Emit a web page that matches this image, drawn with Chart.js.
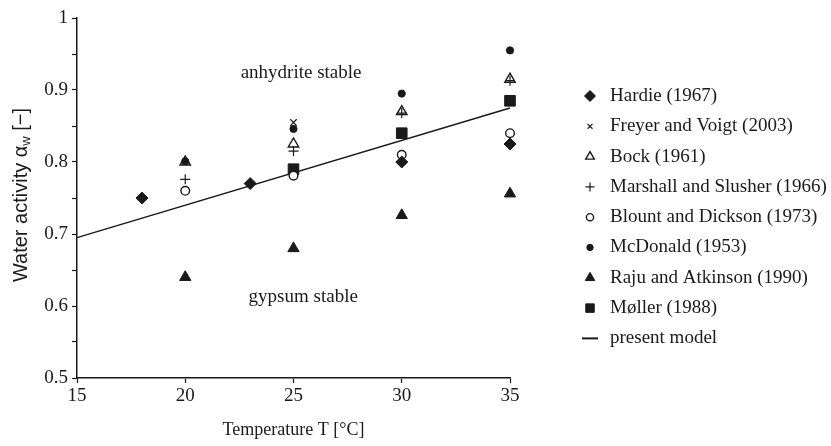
<!DOCTYPE html>
<html>
<head>
<meta charset="utf-8">
<script src="https://cdn.jsdelivr.net/npm/chart.js@4/dist/chart.umd.min.js"></script>
<style>
  html, body { margin: 0; padding: 0; background: #fff; }
  #wrap { width: 831px; height: 446px; }
</style>
</head>
<body>
<div id="wrap"><canvas id="myChart" width="831" height="446"></canvas></div>
<script>
// data: [temperature in C, water activity]
const hardie    = [[18, 0.750], [23, 0.770], [30, 0.800], [35, 0.825]];
const freyer    = [[25, 0.855]];
const bock      = [[20, 0.800], [25, 0.825], [30, 0.870], [35, 0.915]];
const marshall  = [[20, 0.776], [25, 0.815], [30, 0.868], [35, 0.913]];
const blount    = [[20, 0.760], [25, 0.781], [30, 0.810], [35, 0.840]];
const mcdonald  = [[20, 0.801], [25, 0.846], [30, 0.895], [35, 0.955]];
const raju      = [[20, 0.640], [25, 0.680], [30, 0.726], [35, 0.756]];
const moller    = [[25, 0.790], [30, 0.840], [35, 0.885]];
const model     = [[15, 0.695], [35, 0.875]];

const seriesNames = ['Hardie (1967)', 'Freyer and Voigt (2003)', 'Bock (1961)',
  'Marshall and Slusher (1966)', 'Blount and Dickson (1973)', 'McDonald (1953)',
  'Raju and Atkinson (1990)', 'M\u00f8ller (1988)', 'present model'];

const xTicks = [15, 20, 25, 30, 35];
const yTicks = [0.5, 0.6, 0.7, 0.8, 0.9, 1];
const yTickLabels = ['0.5', '0.6', '0.7', '0.8', '0.9', '1'];

const serif = '"Liberation Serif", "Times New Roman", serif';
const sans = '"Liberation Sans", Arial, sans-serif';
const ink = '#1a1a1a';

function pts(arr) {
  return arr.map(function(p) { return { x: p[0], y: p[1] }; });
}

// marker look for each series (same order as seriesNames)
const markers = [
  { pointStyle: 'rectRot',  radius: 6,   legendR: 5.5, fill: ink,             border: ink, bw: 1 },
  { pointStyle: 'crossRot', radius: 4.5, legendR: 3.5, fill: ink,             border: ink, bw: 1.2 },
  { pointStyle: 'triangle', radius: 6,   legendR: 5,   fill: 'rgba(0,0,0,0)', border: ink, bw: 1.4 },
  { pointStyle: 'cross',    radius: 5,   legendR: 4.5, fill: ink,             border: ink, bw: 1.2 },
  { pointStyle: 'circle',   radius: 4.3, legendR: 3.6, fill: '#fff',          border: ink, bw: 1.4 },
  { pointStyle: 'circle',   radius: 3.6, legendR: 3.2, fill: ink,             border: ink, bw: 1 },
  { pointStyle: 'triangle', radius: 6.5, legendR: 5.5, fill: ink,             border: ink, bw: 1 },
  { pointStyle: 'rect',     radius: 7.5, legendR: 6,   fill: ink,             border: ink, bw: 1 }
];

const allSeries = [hardie, freyer, bock, marshall, blount, mcdonald, raju, moller];

let datasets = allSeries.map(function(s, i) {
  let m = markers[i];
  return {
    label: seriesNames[i],
    data: pts(s),
    showLine: false,
    clip: false,
    pointStyle: m.pointStyle,
    pointRadius: m.radius,
    backgroundColor: m.fill,
    borderColor: m.border,
    borderWidth: m.bw
  };
});

datasets.push({
  label: seriesNames[8],
  data: pts(model),
  showLine: true,
  clip: false,
  pointRadius: 0,
  borderColor: ink,
  borderWidth: 1.5,
  fill: false
});

// text labels, y-axis title and legend
const extras = {
  id: 'extras',
  afterDraw: function(chart) {
    let ctx = chart.ctx;
    let xs = chart.scales.x, ys = chart.scales.y;
    ctx.save();

    ctx.fillStyle = ink;
    ctx.font = '19px ' + serif;
    ctx.textAlign = 'center';
    ctx.textBaseline = 'middle';
    ctx.fillText('anhydrite stable', xs.getPixelForValue(25.35), ys.getPixelForValue(0.924));
    ctx.fillText('gypsum stable', xs.getPixelForValue(25.45), ys.getPixelForValue(0.6125));

    // y-axis title with subscript w
    ctx.save();
    ctx.translate(21, (chart.chartArea.top + chart.chartArea.bottom) / 2 - 3);
    ctx.rotate(-Math.PI / 2);
    ctx.textAlign = 'left';
    ctx.textBaseline = 'middle';
    let main = 'Water activity \u03b1';
    let tail = ' [\u2212]';
    ctx.font = '20px ' + sans;
    let w1 = ctx.measureText(main).width;
    ctx.font = '13px ' + sans;
    let w2 = ctx.measureText('w').width;
    ctx.font = '20px ' + sans;
    let w3 = ctx.measureText(tail).width;
    let x0 = -(w1 + w2 + w3) / 2;
    ctx.fillText(main, x0, 0);
    ctx.font = '13px ' + sans;
    ctx.fillText('w', x0 + w1, 5);
    ctx.font = '20px ' + sans;
    ctx.fillText(tail, x0 + w1 + w2, 0);
    ctx.restore();

    // legend
    let lx = 590, tx = 610, ly = 96, step = 30.3;
    ctx.textAlign = 'left';
    ctx.textBaseline = 'middle';
    for (let i = 0; i < seriesNames.length; i++) {
      let y = ly + i * step;
      if (i < markers.length) {
        let m = markers[i];
        ctx.fillStyle = m.fill;
        ctx.strokeStyle = m.border;
        ctx.lineWidth = m.bw;
        Chart.helpers.drawPoint(ctx, { pointStyle: m.pointStyle, radius: m.legendR, borderWidth: m.bw, rotation: 0 }, lx, y);
      } else {
        ctx.strokeStyle = ink;
        ctx.lineWidth = 2;
        ctx.beginPath();
        ctx.moveTo(582, y);
        ctx.lineTo(598, y);
        ctx.stroke();
      }
      ctx.fillStyle = ink;
      ctx.font = '19px ' + serif;
      ctx.fillText(seriesNames[i], tx, y);
    }
    ctx.restore();
  }
};

let ctx = document.getElementById('myChart').getContext('2d');
let myChart = new Chart(ctx, {
  type: 'scatter',
  data: { datasets: datasets },
  options: {
    responsive: false,
    animation: false,
    layout: { padding: { left: 0, top: 18, right: 321, bottom: 0 } },
    plugins: { legend: { display: false }, tooltip: { enabled: false } },
    scales: {
      x: {
        type: 'linear',
        min: xTicks[0],
        max: xTicks[xTicks.length - 1],
        afterFit: function(s) { s.height = 68; },
        afterBuildTicks: function(s) { s.ticks = xTicks.map(function(v) { return { value: v }; }); },
        grid: { drawOnChartArea: false, drawTicks: true, tickLength: 5, color: ink, tickWidth: 1.2 },
        border: { display: true, color: ink, width: 1.5 },
        ticks: { color: ink, font: { family: serif, size: 19 }, padding: 2, maxRotation: 0 },
        title: { display: true, text: 'Temperature T [\u00b0C]', color: ink,
                 font: { family: serif, size: 18 }, padding: { top: 2, bottom: 5 } }
      },
      y: {
        type: 'linear',
        min: 0.5,
        max: 1,
        afterFit: function(s) { s.width = 77; },
        ticks: {
          stepSize: 0.05,
          color: ink,
          padding: 4,
          font: { family: serif, size: 19 },
          callback: function(v) {
            for (let i = 0; i < yTicks.length; i++) {
              if (Math.abs(v - yTicks[i]) < 1e-6) return yTickLabels[i];
            }
            return '';
          }
        },
        grid: { drawOnChartArea: false, drawTicks: true, tickLength: 5, color: ink, tickWidth: 1.2 },
        border: { display: true, color: ink, width: 1.5 }
      }
    }
  },
  plugins: [extras]
});
</script>
</body>
</html>
